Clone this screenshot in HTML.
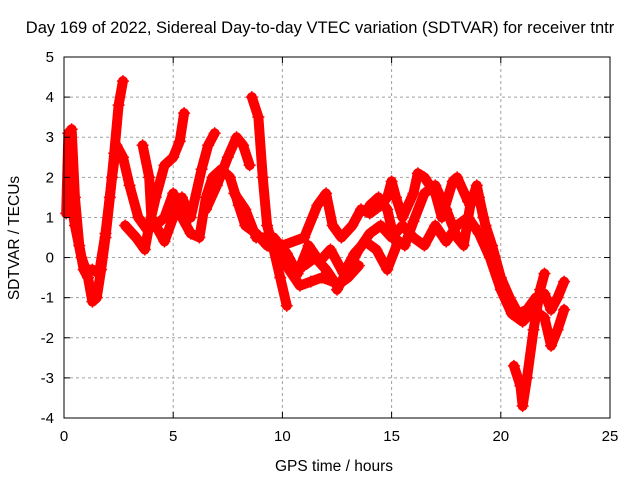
<!DOCTYPE html>
<html><head><meta charset="utf-8"><style>
body{margin:0;background:#fff}
svg{display:block;font-family:"Liberation Sans",sans-serif}
</style></head><body>
<svg id="chart" width="640" height="480">
<text x="320" y="33" font-size="16.5" text-anchor="middle">Day 169 of 2022, Sidereal Day-to-day VTEC variation (SDTVAR) for receiver tntr</text>
<text x="334" y="471" font-size="15.5" text-anchor="middle">GPS time / hours</text>
<text x="19" y="238" font-size="15.5" text-anchor="middle" transform="rotate(-90 19 238)">SDTVAR / TECUs</text>
<g id="grid"></g><g id="marks"></g><g id="axes"></g>
</svg>
<script>
const xTicks=[0,5,10,15,20,25];
const yTicks=[-4,-3,-2,-1,0,1,2,3,4,5];
const sA=[[0.1,1.1],[0.2,3.1],[0.35,3.2],[0.5,1.5],[0.7,0.3],[0.9,-0.3],[1.1,-0.5],[1.3,-1.1],[1.5,-1.0],[1.7,-0.3],[1.9,0.5],[2.1,1.5],[2.3,2.6],[2.5,3.8],[2.7,4.4]];
const sB=[[0.2,1.8],[0.5,0.8],[0.8,0],[1.0,-0.3],[1.3,-0.3],[1.6,-0.4],[1.9,0.6],[2.2,2.0],[2.4,2.8],[2.7,2.5],[3.0,1.8],[3.4,1.0],[3.8,0.7],[4.2,0.8],[4.6,1.0],[5.0,1.6],[5.4,1.0],[5.8,0.6],[6.2,0.5],[6.5,1.5],[6.8,2.0],[7.2,2.2],[7.6,2.0],[8.0,1.3],[8.3,0.8],[8.8,0.6],[9.3,0.3],[9.7,0.2],[10.0,0.0],[10.5,-0.3],[11,-0.2],[11.5,0],[12,-0.3],[12.5,-0.7],[13,-0.5],[13.5,-0.2]];
const sC=[[2.8,0.8],[3.3,0.5],[3.7,0.2],[3.9,0.8],[4.2,1.5],[4.6,2.3],[5.0,2.5],[5.3,2.9],[5.5,3.6]];
const sD=[[3.6,2.8],[3.9,2.0],[4.0,1.0],[4.3,0.7],[4.6,0.4],[5.0,1.0],[5.4,1.5],[5.8,1.0]];
const sE=[[5.8,1.0],[6.3,2.2],[6.6,2.8],[6.9,3.1]];
const sF=[[6.5,1.2],[7.0,1.8],[7.5,2.5],[7.9,3.0],[8.2,2.8],[8.5,2.3]];
const sG=[[8.6,4.0],[8.9,3.5],[9.1,2.0],[9.3,0.8],[9.6,0.2],[9.9,-0.5],[10.2,-1.2]];
const sH=[[7.8,1.6],[8.3,1.2],[8.8,0.5],[9.3,0.5],[9.8,0.3],[10.3,-0.3],[10.8,-0.7],[11.3,-0.6],[11.8,-0.5],[12.3,-0.6]];
const sI=[[10,0.3],[11,0.5],[11.6,1.3],[12,1.6],[12.3,0.8],[12.7,0.5],[13.2,0.8],[13.6,1.2],[14.0,1.1],[14.5,1.3],[14.8,1.5],[15,1.9],[15.2,1.5],[15.5,1.0],[16.0,1.6],[16.2,2.1],[16.5,2.0],[17,1.6],[17.3,1.0],[17.8,1.9],[18.0,2.0],[18.5,1.4],[19.0,1.5],[19.3,0.8],[19.6,0.3],[20.0,-0.5],[20.4,-1.0],[20.8,-1.4],[21.2,-1.3],[21.6,-1.0],[22.0,-0.9],[22.3,-1.3],[22.6,-1.0],[22.9,-0.6]];
const sJ=[[12.5,-0.8],[13.0,-0.3],[13.5,0.2],[14.0,0.6],[14.5,0.8],[15.0,0.5],[15.5,0.8],[16.0,0.5],[16.5,0.3],[17.0,0.8],[17.5,0.4],[18.0,0.8],[18.5,1.0],[19.0,0.6],[19.5,0],[20.0,-0.8],[20.5,-1.4],[21.0,-1.6],[21.5,-1.3],[22.0,-1.5],[22.3,-2.2],[22.6,-1.8],[22.9,-1.3]];
const sK=[[20.6,-2.7],[20.9,-3.2],[21.0,-3.7],[21.2,-3.0],[21.5,-1.8],[21.8,-0.8],[22.0,-0.4]];
const sL=[[14,1.3],[14.4,1.5],[14.8,1.2],[15.1,0.5],[15.6,0.3],[16.0,0.9],[16.5,1.6],[17.0,1.8],[17.5,1.2],[18,0.5],[18.3,0.3],[18.6,1.3],[18.9,1.8],[19.2,1.0]];
const sM=[[9.6,0.5],[10.2,0.1],[10.7,-0.4],[11.2,0.3],[11.7,-0.1],[12.2,0.2],[12.8,-0.4],[13.3,0.1],[13.8,0.4],[14.3,0.2],[14.8,-0.3],[15.3,0.4]];
const series=[sA,sB,sC,sD,sE,sF,sG,sH,sI,sJ,sK,sL,sM];
const NS="http://www.w3.org/2000/svg";
const X0=64,X1=610,Y0=418,Y1=57;
const xs=t=>X0+(t-0)/25*(X1-X0);
const ys=v=>Y0-(v+4)/9*(Y0-Y1);
function mk(tag,at,parent){const e=document.createElementNS(NS,tag);for(const k in at)e.setAttribute(k,at[k]);parent.appendChild(e);return e;}
const grid=document.getElementById('grid'),marks=document.getElementById('marks'),axes=document.getElementById('axes');
xTicks.forEach(t=>{
 if(t>0&&t<25){const g=mk('line',{x1:xs(t),x2:xs(t),y1:Y1,y2:Y0,stroke:'#a0a0a0','stroke-dasharray':'3,3'},grid);
 
 }
 const l=mk('text',{x:xs(t),y:Y0+23,'font-size':15,'text-anchor':'middle'},axes);l.textContent=t;
 
 
 mk('line',{x1:xs(t),x2:xs(t),y1:Y0,y2:Y0-6,stroke:'#000'},axes);mk('line',{x1:xs(t),x2:xs(t),y1:Y1,y2:Y1+6,stroke:'#000'},axes);
});
yTicks.forEach(v=>{
 if(v>-4&&v<5){const g=mk('line',{x1:X0,x2:X1,y1:ys(v),y2:ys(v),stroke:'#a0a0a0','stroke-dasharray':'3,3'},grid);
 
 }
 const l=mk('text',{x:X0-10,y:ys(v)+5,'font-size':15,'text-anchor':'end'},axes);l.textContent=v;
 
 
 mk('line',{x1:X0,x2:X0+6,y1:ys(v),y2:ys(v),stroke:'#000'},axes);mk('line',{x1:X1,x2:X1-6,y1:ys(v),y2:ys(v),stroke:'#000'},axes);
});
const fr=mk('rect',{x:X0,y:Y1,width:X1-X0,height:Y0-Y1,fill:'none',stroke:'#000'},axes);


series.forEach((s,i)=>{
 const p=mk('polyline',{points:s.map(d=>xs(d[0])+','+ys(d[1])).join(' '),fill:'none',stroke:'#ff0000','stroke-width':10,'stroke-linejoin':'round','stroke-linecap':'round'},marks);
 
 
 s.forEach(d=>{
  const m=mk('path',{d:`M${xs(d[0])-6},${ys(d[1])}h12M${xs(d[0])},${ys(d[1])-6}v12`,stroke:'#ff0000','stroke-width':1.5},marks);
  
  
 });
});
</script>
</body></html>
